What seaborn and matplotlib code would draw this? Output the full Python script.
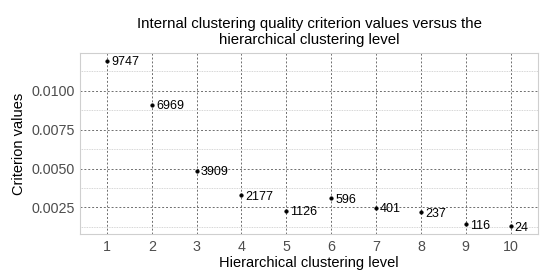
import matplotlib
matplotlib.use("Agg")
import matplotlib.pyplot as plt
import seaborn as sns
import pandas as pd
import numpy as np

levels = [1, 2, 3, 4, 5, 6, 7, 8, 9, 10]
criterion = [0.0119, 0.00908, 0.00485, 0.00329, 0.00228, 0.00308, 0.00248, 0.00218, 0.00141, 0.00128]
cluster_counts = ["9747", "6969", "3909", "2177", "1126", "596", "401", "237", "116", "24"]
yticks = [0.0025, 0.0050, 0.0075, 0.0100]
ytick_labels = ["0.0025", "0.0050", "0.0075", "0.0100"]
minor_yticks = [0.00125, 0.00375, 0.00625, 0.00875, 0.01125]

sns.set_theme(style="white")
plt.rcParams['font.family'] = ['Liberation Sans', 'DejaVu Sans']

df = pd.DataFrame({"level": levels, "value": criterion, "label": cluster_counts})

fig = plt.figure(figsize=(5.5, 2.8), dpi=100)
ax = fig.add_axes([0.1455, 0.164, 0.8325, 0.647])

sns.scatterplot(data=df, x="level", y="value", ax=ax, color="black", s=7,
                edgecolor="black", linewidth=0.3, zorder=3)

for xv, yv, lab in zip(levels, criterion, cluster_counts):
    ax.annotate(lab, (xv, yv), xytext=(3, -1), textcoords="offset points",
                ha="left", va="center", fontsize=9, color="black")

ax.set_xlim(0.4, 10.61)
ax.set_ylim(0.00079, 0.01242)
ax.set_xticks(levels)
ax.set_xticklabels([str(v) for v in levels])
ax.set_yticks(yticks)
ax.set_yticklabels(ytick_labels)
ax.set_yticks(minor_yticks, minor=True)

ax.grid(which="major", axis="both", color="#6e6e6e", linestyle=(0, (2, 2)), linewidth=0.7)
ax.grid(which="minor", axis="y", color="#c8c8c8", linestyle=(0, (1, 1)), linewidth=0.6)
ax.set_axisbelow(True)

for sp in ax.spines.values():
    sp.set_color("#cfcfcf")
    sp.set_linewidth(0.8)

ax.tick_params(axis="both", which="both", length=0, labelsize=10.3, labelcolor="#4d4d4d", pad=4)
ax.set_xlabel("Hierarchical clustering level", fontsize=10.5, color="black", labelpad=2)
ax.set_ylabel("Criterion values", fontsize=10.5, color="black", labelpad=4)
fig.suptitle("Internal clustering quality criterion values versus the\nhierarchical clustering level",
             x=0.562, y=0.94, fontsize=10.8, color="black", linespacing=1.2)

fig.savefig("out.png", dpi=100)
